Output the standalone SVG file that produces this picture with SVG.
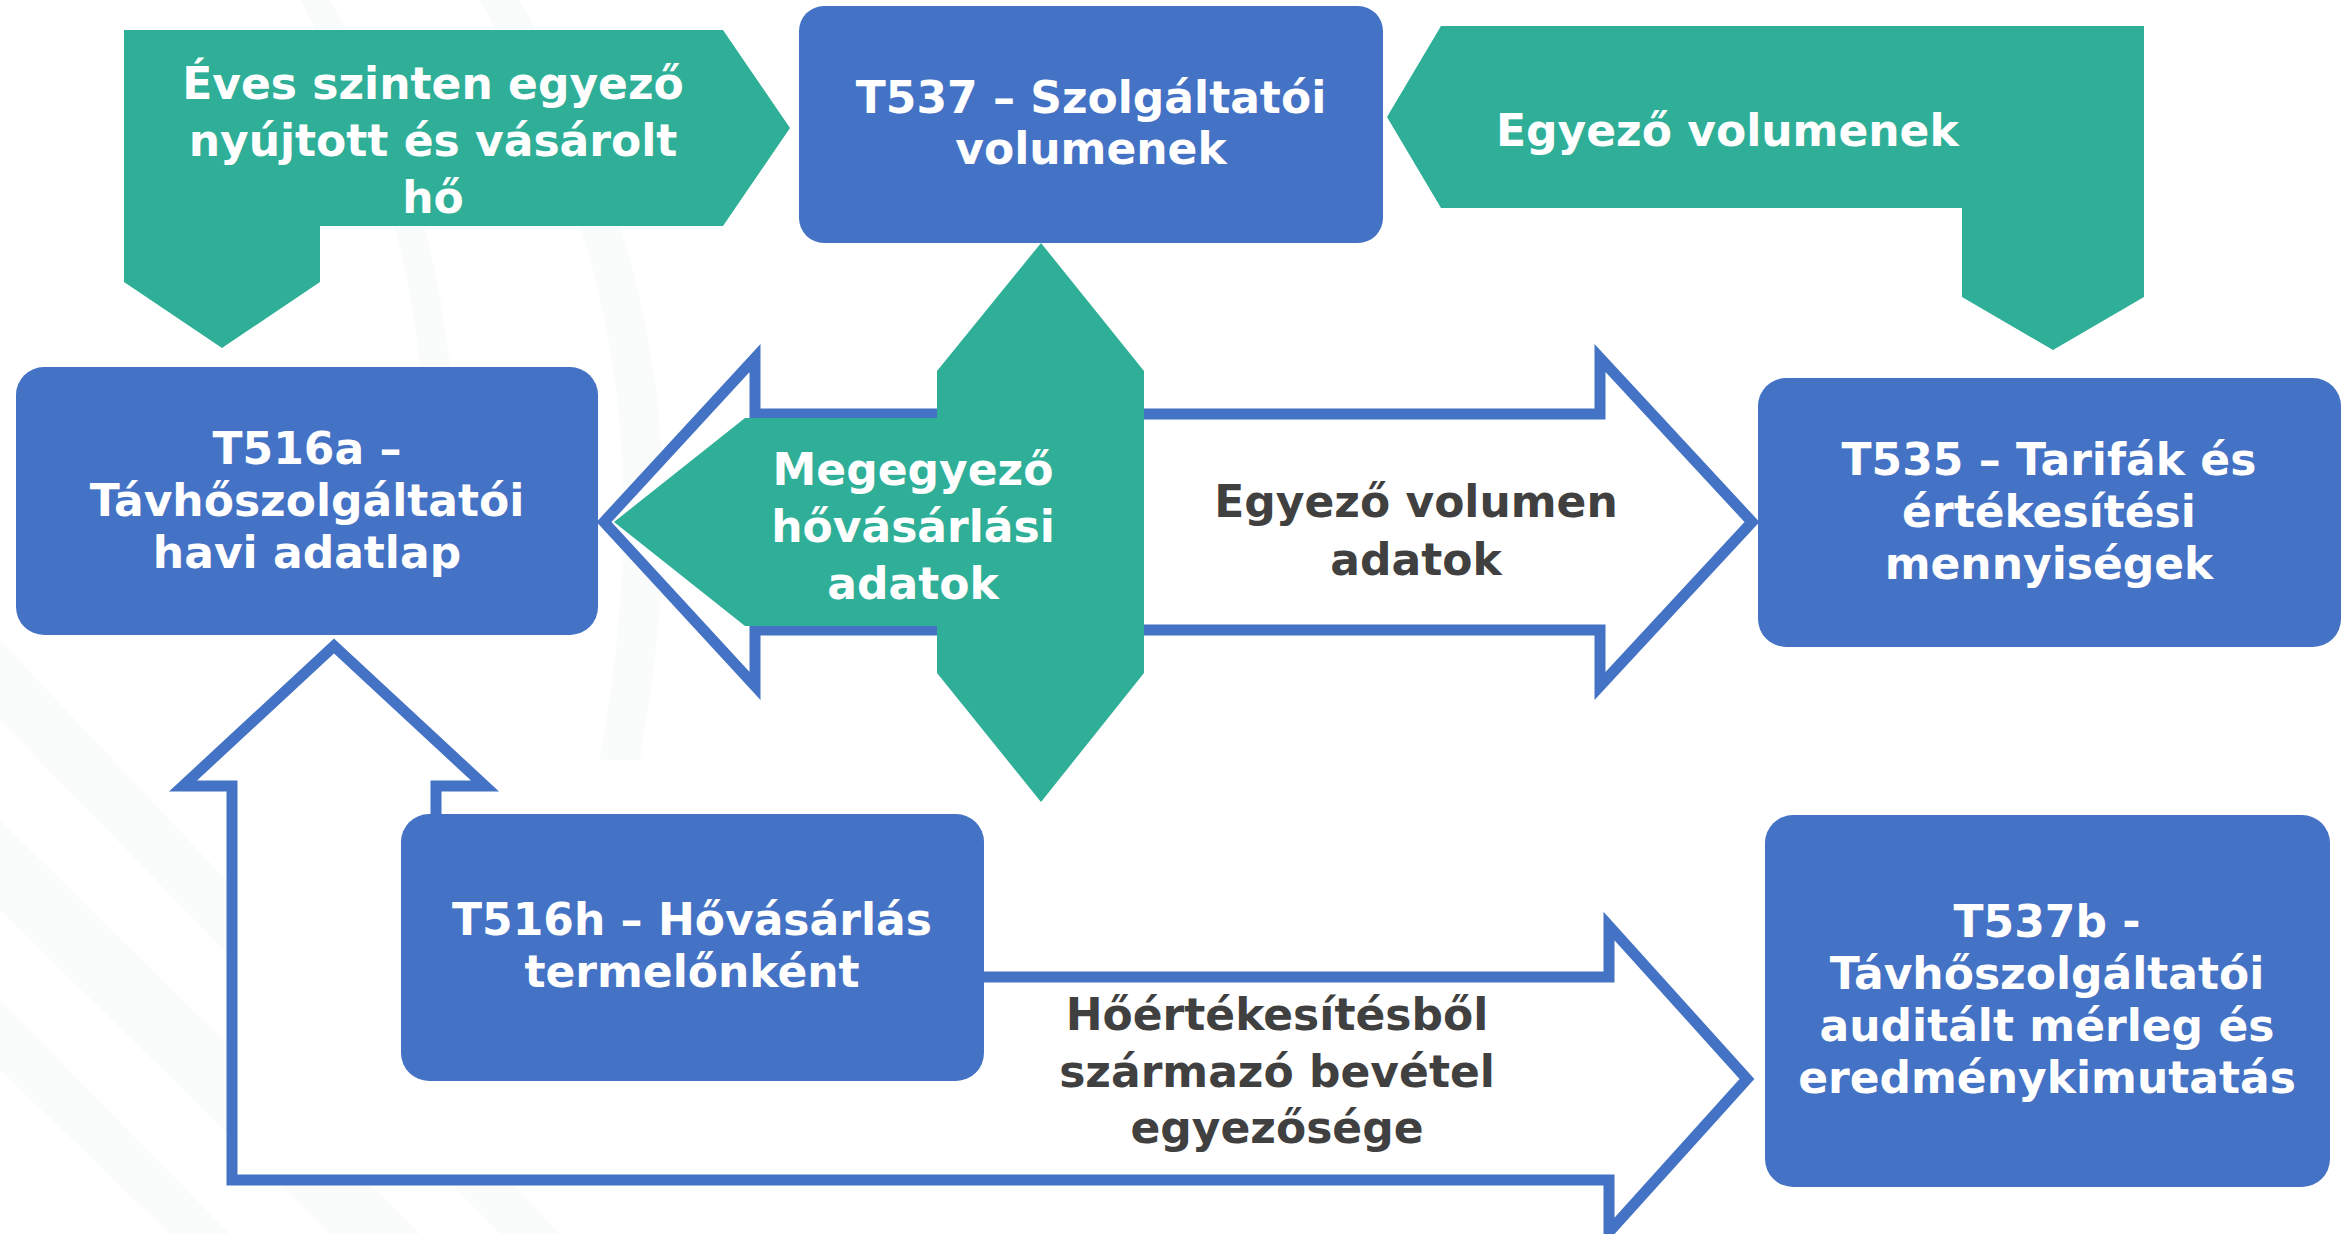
<svg xmlns="http://www.w3.org/2000/svg" width="2351" height="1234" viewBox="0 0 2351 1234">
  <style>
    .box { fill: #4472C4; }
    .green { fill: #2FAF97; }
    .outline { fill: #FFFFFF; stroke: #4472C4; stroke-width: 11; stroke-linejoin: miter; }
    .t { font-family: "DejaVu Sans", "Liberation Sans", sans-serif; font-weight: 700; font-size: 44px; text-anchor: middle; }
    .w { fill: #FFFFFF; }
    .g { fill: #404040; }
    .bg { fill: #EDF6F2; opacity: 0.35; }
  </style>
  <rect x="0" y="0" width="2351" height="1234" fill="#FFFFFF"/>
  <g id="background">
    <path class="bg" d="M330,0 C420,160 470,330 450,560 L420,560 C440,330 390,160 300,0 Z"/>
    <path class="bg" d="M520,0 C640,220 700,420 640,760 L600,760 C660,420 600,220 480,0 Z"/>
    <path class="bg" d="M0,820 L420,1234 L330,1234 L0,910 Z"/>
    <path class="bg" d="M0,640 L560,1234 L500,1234 L0,720 Z"/>
    <path class="bg" d="M0,1000 L230,1234 L170,1234 L0,1070 Z"/>
  </g>
  <g id="connectors">
    <path id="arrow-t516a-t535" class="outline" d="M604,522 L755,358 L755,414 L1600,414 L1600,358 L1752,522 L1600,686 L1600,630 L755,630 L755,686 Z"/>
    <path id="arrow-t516h-loop" class="outline" d="M232,1180 L232,786 L183,786 L334,646 L485,786 L436,786 L436,977 L1609,977 L1609,926 L1747,1079 L1609,1232 L1609,1180 Z"/>
    <path id="arrow-eves" class="green" d="M124,30 L723,30 L790,128 L723,226 L320,226 L320,282 L222,348 L124,282 Z"/>
    <path id="arrow-egyezo-volumenek" class="green" d="M1387,117 L1441,26 L2144,26 L2144,297 L2053,350 L1962,297 L1962,208 L1441,208 Z"/>
    <path id="arrow-megegyezo" class="green" d="M1041,243 L1144,371 L1144,673 L1041,802 L937,673 L937,626 L745,626 L614,522 L745,418 L937,418 L937,371 Z"/>
  </g>
  <g id="labels">
    <text class="t w"><tspan x="433" y="99">Éves szinten egyező</tspan><tspan x="433" y="156">nyújtott és vásárolt</tspan><tspan x="433" y="213">hő</tspan></text>
    <text class="t w" style="text-anchor:start"><tspan x="1496" y="146">Egyező volumenek</tspan></text>
    <text class="t w"><tspan x="913" y="485">Megegyező</tspan><tspan x="913" y="542">hővásárlási</tspan><tspan x="913" y="599">adatok</tspan></text>
    <text class="t g"><tspan x="1416" y="517">Egyező volumen</tspan><tspan x="1416" y="575">adatok</tspan></text>
    <text class="t g"><tspan x="1277" y="1030">Hőértékesítésből</tspan><tspan x="1277" y="1087">származó bevétel</tspan><tspan x="1277" y="1143">egyezősége</tspan></text>
  </g>
  <g id="node-t537">
    <rect class="box" x="799" y="6" width="584" height="237" rx="25"/>
    <text class="t w"><tspan x="1091" y="113">T537 – Szolgáltatói</tspan><tspan x="1091" y="164">volumenek</tspan></text>
  </g>
  <g id="node-t516a">
    <rect class="box" x="16" y="367" width="582" height="268" rx="28"/>
    <text class="t w"><tspan x="307" y="464">T516a –</tspan><tspan x="307" y="516">Távhőszolgáltatói</tspan><tspan x="307" y="568">havi adatlap</tspan></text>
  </g>
  <g id="node-t535">
    <rect class="box" x="1758" y="378" width="583" height="269" rx="28"/>
    <text class="t w"><tspan x="2049" y="475">T535 – Tarifák és</tspan><tspan x="2049" y="527">értékesítési</tspan><tspan x="2049" y="579">mennyiségek</tspan></text>
  </g>
  <g id="node-t516h">
    <rect class="box" x="401" y="814" width="583" height="267" rx="28"/>
    <text class="t w"><tspan x="692" y="935">T516h – Hővásárlás</tspan><tspan x="692" y="987">termelőnként</tspan></text>
  </g>
  <g id="node-t537b">
    <rect class="box" x="1765" y="815" width="565" height="372" rx="28"/>
    <text class="t w"><tspan x="2047" y="937">T537b -</tspan><tspan x="2047" y="989">Távhőszolgáltatói</tspan><tspan x="2047" y="1041">auditált mérleg és</tspan><tspan x="2047" y="1093">eredménykimutatás</tspan></text>
  </g>
</svg>
